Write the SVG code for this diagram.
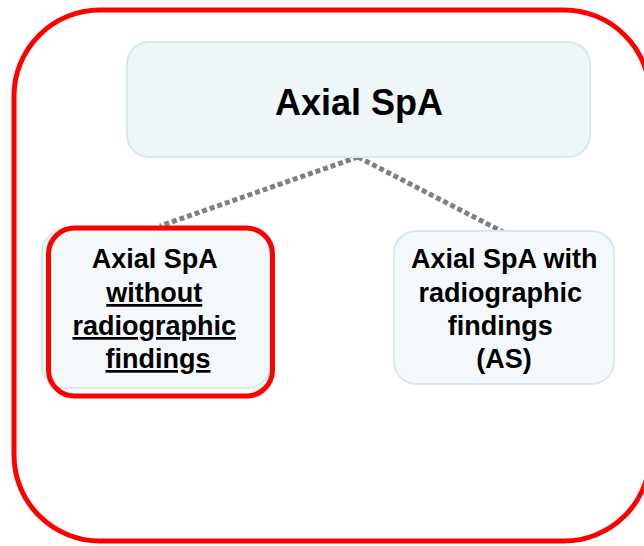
<svg xmlns="http://www.w3.org/2000/svg" width="644" height="546" viewBox="0 0 644 546">
<style>
.node{fill:#eef6f8;stroke:#d8e9ee;stroke-width:2}
.t{font-family:"Liberation Sans",Arial,sans-serif;font-weight:bold;fill:#000;text-anchor:middle}
.conn{stroke:#808080;stroke-width:5;stroke-dasharray:5 3;fill:none}
.red{fill:none;stroke:#ff0000;stroke-width:5}
</style>
<rect width="644" height="546" fill="#fff"/>
<g id="frame"><rect class="red" x="14" y="10" width="636" height="531" rx="86" ry="86"/></g>
<g id="connectors">
<line class="conn" x1="358" y1="157" x2="160" y2="226"/>
<line class="conn" x1="358" y1="157" x2="505" y2="233"/>
</g>
<g id="top">
<rect class="node" x="127" y="42" width="463" height="115" rx="22"/>
<text class="t" x="359" y="115" font-size="36">Axial SpA</text>
</g>
<g id="left">
<rect class="node" x="42" y="230" width="228" height="158" rx="22" style="fill:#f4f8fa"/>
<rect class="red" x="48.5" y="228" width="224" height="168" rx="26"/>
<text class="t" font-size="27">
<tspan x="158" y="268">Axial SpA</tspan>
<tspan x="158" y="302" text-decoration="underline">without</tspan>
<tspan x="158" y="335" text-decoration="underline">radiographic</tspan>
<tspan x="158" y="368" text-decoration="underline">findings</tspan>
</text>
</g>
<g id="right">
<rect class="node" x="394" y="231" width="220" height="153" rx="22" style="fill:#f4f8fa"/>
<text class="t" font-size="27">
<tspan x="508" y="268">Axial SpA with</tspan>
<tspan x="504" y="302">radiographic</tspan>
<tspan x="504" y="335">findings</tspan>
<tspan x="504" y="368">(AS)</tspan>
</text>
</g>
</svg>
